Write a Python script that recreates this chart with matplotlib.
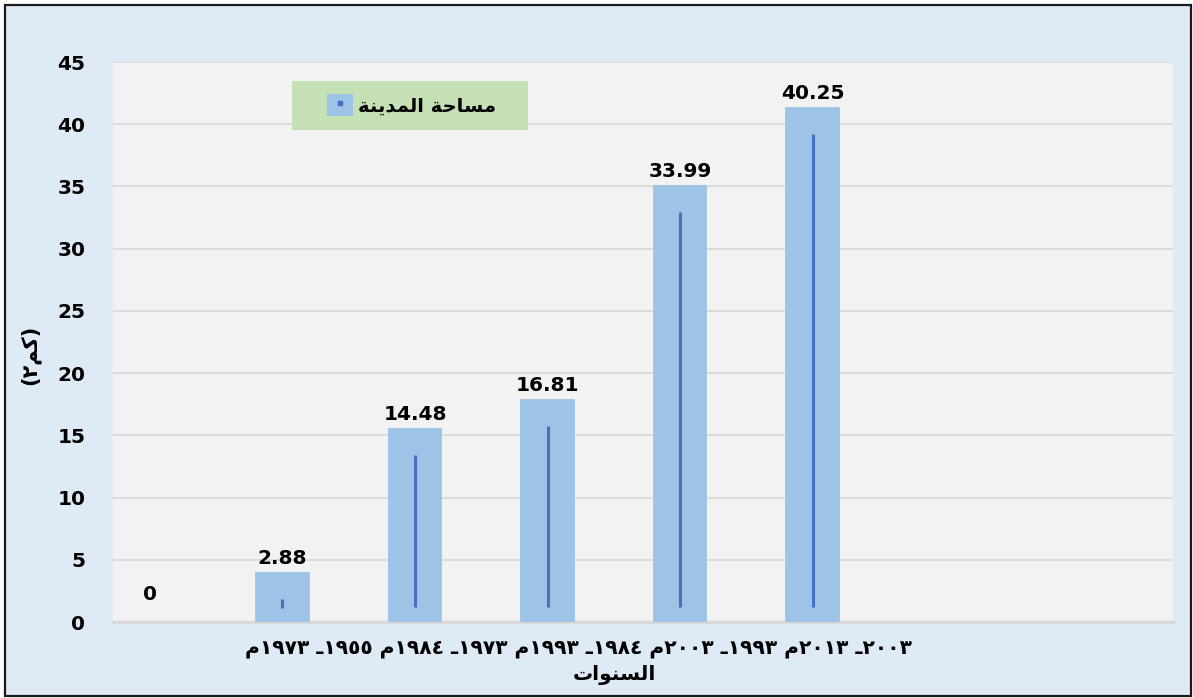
import re
import matplotlib
matplotlib.use("Agg")
import matplotlib.pyplot as plt
from matplotlib.patches import Rectangle
from matplotlib.lines import Line2D
from matplotlib.legend_handler import HandlerTuple

# ---------------- data ----------------
periods = [(1955, 1973), (1973, 1984), (1984, 1993), (1993, 2003), (2003, 2013)]
bar_values = [0, 2.88, 14.48, 16.81, 33.99, 40.25]
value_labels = ["0", "2.88", "14.48", "16.81", "33.99", "40.25"]
y_ticks = [0, 5, 10, 15, 20, 25, 30, 35, 40, 45]
series_name = "مساحة المدينة"
x_title = "السنوات"
y_title = "(كم٢)"

# ---------------- minimal Arabic shaping / bidi ----------------
FORMS = {  # isolated, final, initial, medial
    "ا": ("\uFE8D", "\uFE8E", None, None),
    "ل": ("\uFEDD", "\uFEDE", "\uFEDF", "\uFEE0"),
    "م": ("\uFEE1", "\uFEE2", "\uFEE3", "\uFEE4"),
    "د": ("\uFEA9", "\uFEAA", None, None),
    "ي": ("\uFEF1", "\uFEF2", "\uFEF3", "\uFEF4"),
    "ن": ("\uFEE5", "\uFEE6", "\uFEE7", "\uFEE8"),
    "ة": ("\uFE93", "\uFE94", None, None),
    "س": ("\uFEB1", "\uFEB2", "\uFEB3", "\uFEB4"),
    "ح": ("\uFEA1", "\uFEA2", "\uFEA3", "\uFEA4"),
    "و": ("\uFEED", "\uFEEE", None, None),
    "ت": ("\uFE95", "\uFE96", "\uFE97", "\uFE98"),
    "ك": ("\uFED9", "\uFEDA", "\uFEDB", "\uFEDC"),
}


def shape(s):
    out = []
    for i, ch in enumerate(s):
        if ch not in FORMS:
            out.append(ch)
            continue
        prev = s[i - 1] if i > 0 else ""
        nxt = s[i + 1] if i + 1 < len(s) else ""
        jp = prev in FORMS and FORMS[prev][2] is not None
        jn = FORMS[ch][2] is not None and nxt in FORMS
        iso, fin, ini, med = FORMS[ch]
        if jp and jn:
            out.append(med)
        elif jp:
            out.append(fin)
        elif jn:
            out.append(ini)
        else:
            out.append(iso)
    return "".join(out)


def visual(s):
    runs = re.findall(r"[0-9\u0660-\u0669.]+|.", shape(s))[::-1]
    mirror = {"(": ")", ")": "("}
    return "".join(mirror.get(r, r) for r in runs)


AR_DIGITS = str.maketrans("0123456789", "\u0660\u0661\u0662\u0663\u0664\u0665\u0666\u0667\u0668\u0669")


def ar(n):
    return str(n).translate(AR_DIGITS)


period_labels = [f"{ar(a)}\u0640 {ar(b)}م" for a, b in periods]
x_line = visual(" ".join(period_labels[::-1]))

# ---------------- figure ----------------
W, H = 1193, 698
fig = plt.figure(figsize=(W / 100, H / 100), dpi=100)
fig.patch.set_facecolor("white")
fig.add_artist(Rectangle((5 / W, 2 / H), 1186 / W, 691 / H, transform=fig.transFigure,
                         facecolor="#DEEAF6", edgecolor="#1a1a1a", linewidth=1.6, zorder=-10))

ax_l, ax_r, ax_t, ax_b = 113, 1173, 62, 622
ax = fig.add_axes([ax_l / W, (H - ax_b) / H, (ax_r - ax_l) / W, (ax_b - ax_t) / H])
ax.set_facecolor("#F2F2F2")

bar_color = "#9DC3E6"
line_color = "#4472C4"
x = list(range(len(bar_values)))

ax.set_xlim(-0.279, 7.72)
ax.set_ylim(0, 45)

# bars: core bar with thick same-coloured outline (the original looks like a line with a wide light border)
nz = [i for i, v in enumerate(bar_values) if v > 0]
ax.bar([x[i] for i in nz], [bar_values[i] for i in nz], width=0.2,
       color=bar_color, edgecolor=bar_color, linewidth=20, zorder=3, clip_on=True)
# inner dark strokes
unit = 45 / (ax_b - ax_t)  # data units per pixel
inset = 13 * unit
for i in nz:
    v = bar_values[i]
    lo, hi = 1.2, max(v - inset, 1.2 + 0.6)
    if v < 3:
        lo, hi = 1.1, 1.85
    ax.plot([x[i], x[i]], [lo, hi], color=line_color, linewidth=2.2, zorder=4,
            solid_capstyle="butt")

for i, v in enumerate(bar_values):
    ax.annotate(value_labels[i], (x[i], v), xytext=(0, 20), textcoords="offset points",
                ha="center", va="center", fontsize=14.5, fontweight="bold", color="black",
                zorder=5, annotation_clip=False)

ax.set_yticks(y_ticks)
ax.set_yticklabels([str(t) for t in y_ticks], fontsize=14.5, fontweight="bold")
ax.tick_params(axis="y", length=0, pad=20)
ax.set_xticks([])
ax.yaxis.grid(True, color="#DCDCDC", linewidth=1.5, zorder=0)
ax.set_axisbelow(True)
for s in ["top", "right", "left"]:
    ax.spines[s].set_visible(False)
ax.spines["bottom"].set_color("#D9D9D9")
ax.spines["bottom"].set_linewidth(2.5)
ax.spines["bottom"].set_zorder(2)

# x axis text
fig.text(578 / W, 1 - 648 / H, x_line, ha="center", va="center", fontsize=14.6,
         fontweight="bold", family="DejaVu Sans")
fig.text(614 / W, 1 - 675 / H, visual(x_title), ha="center", va="center", fontsize=14.5,
         fontweight="bold", family="DejaVu Sans")
fig.text(30 / W, 1 - 355 / H, visual(y_title), ha="center", va="center", fontsize=15,
         fontweight="bold", rotation=90, family="DejaVu Sans")

# legend box
fig.add_artist(Rectangle((292 / W, 1 - 130 / H), 236 / W, 49 / H, transform=fig.transFigure,
                         facecolor="#C5E0B4", edgecolor="none", zorder=6))
h_patch = Rectangle((0, 0), 1, 1, facecolor=bar_color, edgecolor="none")
h_dot = Line2D([], [], marker="s", markersize=3, color=line_color, linestyle="none")
leg = fig.legend([(h_patch, h_dot)], [visual(series_name)],
                 handler_map={tuple: HandlerTuple(ndivide=1, pad=0)},
                 loc="center", bbox_to_anchor=(412 / W, 1 - 105 / H),
                 frameon=False, prop={"size": 14, "weight": "bold", "family": "DejaVu Sans"},
                 handlelength=1.3, handleheight=1.3, handletextpad=0.3)
leg.set_zorder(7)

fig.savefig("out.png", dpi=100, facecolor=fig.get_facecolor())
